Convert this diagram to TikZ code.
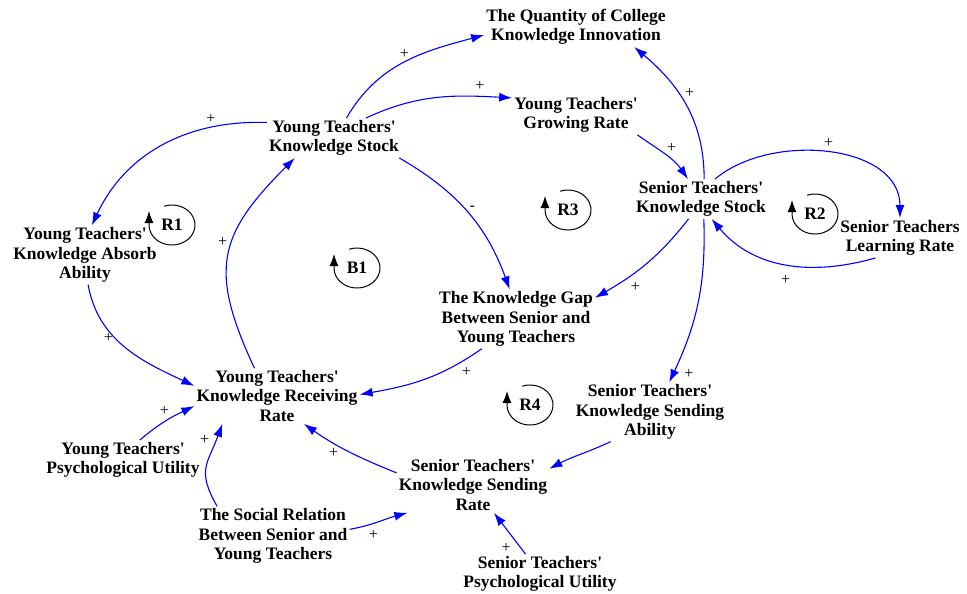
\documentclass[tikz,border=0pt]{standalone}
\usepackage{fontspec}
\setmainfont{Liberation Serif}
\usetikzlibrary{arrows.meta,calc}
\tikzset{
  >={Latex[length=13pt,width=9pt]},
  varbox/.style={font=\bfseries\fontsize{17.5}{19.5}\selectfont, align=center, inner sep=2pt},
  flow/.style={->, draw=blue, line width=1.1pt},
  signlbl/.style={font=\fontsize{16}{16}\selectfont, inner sep=1.5pt},
  looplbl/.style={font=\bfseries\fontsize{17.5}{19.5}\selectfont, inner sep=1pt},
  loopline/.style={-{Latex[length=12pt,width=9pt]}, draw=black, line width=1pt},
}

\begin{document}
\begin{tikzpicture}[x=1pt,y=1pt]
  \useasboundingbox (0,0) rectangle (967,-594);
  % variables
  \node[varbox] (qnt) at (576,-27) {The Quantity of College\\Knowledge Innovation};
  \node[varbox] (ystock) at (334,-138) {Young Teachers\textquotesingle\\Knowledge Stock};
  \node[varbox] (ygrow) at (576,-115) {Young Teachers\textquotesingle\\Growing Rate};
  \node[varbox] (sstock) at (701,-199) {Senior Teachers\textquotesingle\\Knowledge Stock};
  \node[varbox] (slearn) at (900,-238) {Senior Teachers\\Learning Rate};
  \node[varbox] (yabsorb) at (85,-255) {Young Teachers\textquotesingle\\Knowledge Absorb\\Ability};
  \node[varbox] (gap) at (516,-319) {The Knowledge Gap\\Between Senior and\\Young Teachers};
  \node[varbox] (yrecv) at (277,-396) {Young Teachers\textquotesingle\\Knowledge Receiving\\Rate};
  \node[varbox] (ssendab) at (650,-412) {Senior Teachers\textquotesingle\\Knowledge Sending\\Ability};
  \node[varbox] (ssendrt) at (473,-485) {Senior Teachers\textquotesingle\\Knowledge Sending\\Rate};
  \node[varbox] (ypsy) at (123,-460) {Young Teachers\textquotesingle\\Psychological Utility};
  \node[varbox] (social) at (273,-536) {The Social Relation\\Between Senior and\\Young Teachers};
  \node[varbox] (spsy) at (540,-574) {Senior Teachers\textquotesingle\\Psychological Utility};

  % loop markers
  \foreach \lx/\ly/\lname in {172/225/R1, 815/214/R2, 568/210/R3, 357/268/B1, 530/405/R4} {
    \node[looplbl] (\lname) at (\lx,-\ly) {\lname};
    \draw[loopline] ($(\lname)+(110:23 and 20)$) arc[start angle=110, end angle=-180, x radius=23, y radius=20] -- ++(0,14);
  }

  % links
  \draw[flow] (ystock.58) to[out=60,in=195] node[signlbl,pos=0.5,above=2pt] {+} (qnt.185);
  \draw[flow] (ystock.32) to[out=25,in=177] node[signlbl,pos=0.8,above=4pt] {+} (ygrow.165);
  \draw[flow] (ystock.167) to[out=178,in=65] node[signlbl,pos=0.25,above=2pt] {+} (yabsorb.77);
  \draw[flow] (yabsorb.276) to[out=-80,in=155] node[signlbl,pos=0.4,left] {+} (yrecv.173);
  \draw[flow] (yrecv.129) to[out=115,in=225,looseness=1.3] node[signlbl,pos=0.57,left=3pt] {+} (ystock.207);
  \draw[flow] (ystock.-17) to[out=-30,in=110] node[signlbl,pos=0.5,above right] {-} (gap.102);
  \draw[flow] (sstock.238) to[out=232,in=30] node[signlbl,pos=0.62,below=8pt] {+} (gap.15);
  \draw[flow] (gap.221) to[out=215,in=10] node[signlbl,pos=0.2,below right=2pt] {+} (yrecv.1);
  \draw[flow] (ygrow.-18) to[out=-35,in=125] node[signlbl,pos=0.5,above right] {+} (sstock.123);
  \draw[flow] (sstock.81) to[out=90,in=-40] node[signlbl,pos=0.6,right=5pt] {+} (qnt.-19);
  \draw[flow] (sstock.55) to[out=40,in=90] node[signlbl,pos=0.5,above=3pt] {+} (slearn.90);
  \draw[flow] (slearn.219) to[out=196,in=-50] node[signlbl,pos=0.5,below=9pt] {+} (sstock.-62);
  \draw[flow] (sstock.-82) to[out=-88,in=65] node[signlbl,pos=0.95,right=9pt] {+} (ssendab.57);
  \draw[flow] (ssendab.217) to[out=205,in=28] (ssendrt.12);
  \draw[flow] (ssendrt.171) to[out=158,in=-35] node[signlbl,pos=0.6,below left] {+} (yrecv.-46);
  \draw[flow] (ypsy.50) to[out=40,in=205] node[signlbl,pos=0.6,above left] {+} (yrecv.187);
  \draw[flow] (social.152) to[out=120,in=250,looseness=1.3] node[signlbl,pos=0.85,left=5pt] {+} (yrecv.207);
  \draw[flow] (social.5) to[out=10,in=195] node[signlbl,pos=0.4,below=5pt] {+} (ssendrt.203);
  \draw[flow] (spsy.126) -- node[signlbl,pos=0.15,left=8pt] {+} (ssendrt.-53);
\end{tikzpicture}
\end{document}
